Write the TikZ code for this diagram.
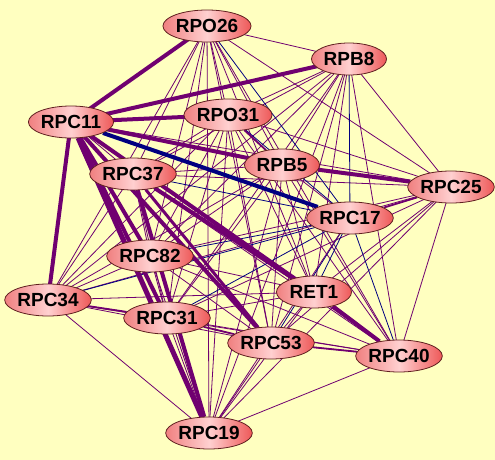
\documentclass[tikz,border=0pt]{standalone}
\usepackage{fontspec}
\setmainfont{Liberation Sans}
\usepackage{tikz}
\usetikzlibrary{shapes.geometric, backgrounds}

\definecolor{paper}{RGB}{255,255,192}
\definecolor{linkpurple}{RGB}{112,0,112}
\definecolor{linkblue}{RGB}{0,0,128}
\definecolor{protL}{RGB}{240,128,128}
\definecolor{protM}{RGB}{255,208,208}
\definecolor{protR}{RGB}{238,88,88}
\definecolor{protrim}{RGB}{96,32,32}

\tikzset{
  thinlink/.style={linkpurple, line width=0.8pt},
  midlink/.style={linkpurple, line width=1.8pt},
  fatlink/.style={linkpurple, line width=4pt},
  bluelink/.style={linkblue, line width=0.8pt},
  fatblue/.style={linkblue, line width=4pt}
}

\begin{document}
\begin{tikzpicture}[x=1pt, y=-1pt]

\useasboundingbox (0,0) rectangle (495,460);

\begin{scope}[every node/.style={ellipse, draw=protrim, line width=0.8pt, left color=protL, right color=protR, middle color=protM, minimum width=75pt, minimum height=32pt, inner sep=0pt, font=\fontsize{19}{19}\selectfont\bfseries}]
\node (rpo26) at (207,26) {RPO26};
\node (rpb8) at (349,59) {RPB8};
\node (rpc11) at (71,122) {RPC11};
\node (rpo31) at (228,115) {RPO31};
\node (rpb5) at (282,165) {RPB5};
\node (rpc25) at (451,187) {RPC25};
\node (rpc37) at (133,174) {RPC37};
\node (rpc17) at (350,218) {RPC17};
\node (rpc82) at (150,256) {RPC82};
\node (ret1) at (314,292) {RET1};
\node (rpc34) at (48,300) {RPC34};
\node (rpc31) at (167,318) {RPC31};
\node (rpc53) at (271,343) {RPC53};
\node (rpc40) at (399,356) {RPC40};
\node (rpc19) at (209,433) {RPC19};
\end{scope}

\begin{pgfonlayer}{background}
\fill[paper] (0,0) rectangle (495,460);

% every pair has a thin link
\foreach \a [count=\i] in {rpo26,rpb8,rpc11,rpo31,rpb5,rpc25,rpc37,rpc82,ret1,rpc34,rpc31,rpc53,rpc40,rpc19}
  \foreach \b [count=\j] in {rpo26,rpb8,rpc11,rpo31,rpb5,rpc25,rpc37,rpc82,ret1,rpc34,rpc31,rpc53,rpc40,rpc19}
    {\ifnum\i<\j \draw[thinlink] (\a.center) -- (\b.center); \fi}

% rpc17 links
\foreach \a in {rpo26,rpb8,rpo31,rpc37,rpc82,rpc34,rpc31,rpc53,ret1,rpc40}
  \draw[bluelink] (rpc17.center) -- (\a.center);
\foreach \a in {rpb5,rpc19}
  \draw[thinlink] (rpc17.center) -- (\a.center);
\draw[midlink] (rpc17) -- (rpc25);

% doubled links
\draw[midlink] (rpc34) -- (rpc31) -- (rpc53) -- (rpc40);
\draw[midlink] (rpo31) -- (rpb5);

% strong links
\draw[fatblue] (rpc11) -- (rpc17);
\foreach \a in {rpo26,rpb8,rpo31,rpb5,rpc34,rpc82,rpc31,rpc53,ret1}
  \draw[fatlink] (rpc11.center) -- (\a.center);
\draw[fatlink, line width=5pt] (rpc11) -- (rpc19);
\draw[fatlink] (rpb5) -- (rpc25);
\draw[fatlink] (rpc37) -- (ret1) -- (rpc40);
\draw[fatlink] (rpc37) -- (rpc19);
\draw[fatlink, line width=3pt] (rpc37) -- (rpc53);
\end{pgfonlayer}

\end{tikzpicture}
\end{document}
